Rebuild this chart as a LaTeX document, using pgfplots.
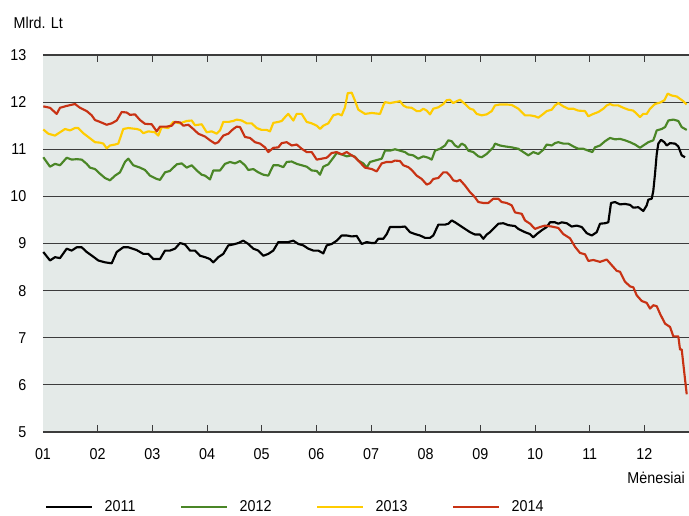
\documentclass[border=0pt]{standalone}
\usepackage{fontspec}
\setmainfont{Liberation Sans}[FakeStretch=0.91]
\usepackage{pgfplots}
\pgfplotsset{compat=1.18}
\definecolor{bgc}{RGB}{228,234,232}
\definecolor{c11}{RGB}{0,0,0}
\definecolor{c12}{RGB}{74,134,38}
\definecolor{c13}{RGB}{255,204,0}
\definecolor{c14}{RGB}{200,50,20}
\definecolor{gridc}{RGB}{60,60,60}
\newcommand\fs{\fontsize{11.8pt}{14pt}\selectfont}
\begin{document}
\begin{tikzpicture}
\path[use as bounding box] (-32.25pt,-63pt) rectangle (484.5pt,324pt);
\begin{axis}[
  at={(0pt,0pt)}, anchor=south west,
  scale only axis, width=484.5pt, height=282.75pt,
  xmin=0, xmax=11.816, ymin=5, ymax=13,
  x filter/.expression={(x-43)/54.67},
  axis background/.style={fill=bgc},
  axis line style={draw=none},
  ytick={5,...,13},
  ymajorgrids, grid style={gridc, line width=0.8pt},
  xtick={0,...,11},
  xticklabels={01,02,03,04,05,06,07,08,09,10,11,12},
  major tick length=0pt,
  extra x ticks={1,...,11}, extra x tick labels={},
  extra x tick style={major tick length=5.5pt, tick align=inside, tick style={gridc, line width=0.6pt}, xmajorgrids=false},
  /pgf/number format/assume math mode=true,
  tick label style={font=\fs},
  yticklabel style={anchor=east, xshift=-9pt},
  xticklabel style={anchor=north, yshift=-9pt},
  legend columns=4,
  legend style={at={(1.5pt,-56.25pt)}, anchor=west, draw=none, fill=none, font=\fs, inner sep=0pt,
     /tikz/every even column/.append style={column sep=31.5pt}},
  legend image code/.code={\draw[#1] (0pt,0pt) -- (34.5pt,0pt); \path (41pt,0pt);},
  legend cell align=left,
  every axis plot/.append style={line width=1.6pt, line join=round},
  clip=false,
]
% 2011
\addplot[c11] coordinates {
(43.3,8.82)(50,8.64)(55,8.71)(60,8.69)(66.7,8.89)(71.7,8.85)(76.7,8.92)(81.7,8.92)(86.7,8.82)(93.3,8.72)
(98.3,8.64)(105,8.60)(111.7,8.58)(116.7,8.82)(123.3,8.92)(128.3,8.92)(136.7,8.86)(143.3,8.78)(148.3,8.78)(153.3,8.67)
(160,8.67)(165,8.85)(170,8.85)(175,8.89)(180,9.01)(185,8.98)(190,8.85)(195,8.85)(200,8.74)(205,8.71)
(210,8.67)(213.3,8.60)(218.3,8.71)(223.3,8.78)(228.3,8.96)(233.3,8.98)(238.3,9.01)(243.3,9.06)(248.3,8.99)(253.3,8.89)
(258.3,8.85)(263.3,8.74)(268.3,8.78)(273.3,8.85)(278.3,9.03)(283.3,9.03)(288.3,9.03)(293.3,9.06)(298.3,8.99)(303.3,8.96)
(308.3,8.89)(313.3,8.85)(318.3,8.85)(323.3,8.79)(326.7,8.96)(331.7,8.99)(336.7,9.06)(341.7,9.17)(346.7,9.17)(351.7,9.15)
(356.7,9.16)(361.7,8.99)(366.7,9.03)(371.7,9.01)(375,9.01)(378.3,9.10)(383.3,9.10)(386.7,9.20)(390,9.35)(395,9.35)
(400,9.35)(405,9.36)(410,9.24)(415,9.20)(420,9.17)(425,9.12)(430,9.12)(433.3,9.17)(438.3,9.40)(445,9.40)
(448.3,9.42)(451.7,9.49)(455,9.45)(460,9.38)(465,9.31)(470,9.24)(475,9.19)(480,9.19)(483.3,9.10)(486.7,9.19)
(490,9.24)(493.3,9.31)(498.3,9.42)(503.3,9.43)(508.3,9.39)(515,9.37)(518.3,9.31)(525,9.24)(530,9.20)(533.3,9.13)
(536.7,9.20)(541.7,9.28)(546.7,9.35)(550,9.45)(555,9.45)(558.3,9.42)(561.7,9.45)(566.7,9.43)(571.7,9.36)(576.7,9.38)
(581.7,9.35)(586.7,9.22)(591.7,9.17)(596.7,9.24)(600,9.42)(605,9.43)(608.3,9.45)(611,9.86)(615,9.88)(620,9.83)
(625,9.84)(630,9.82)(633.3,9.76)(638.3,9.77)(643.3,9.69)(646.7,9.81)(648.3,9.93)(651.7,9.95)(653.3,10.12)(655,10.48)
(656.7,10.90)(658.3,11.12)(661,11.20)(664.3,11.15)(666.7,11.08)(670,11.13)(675,11.12)(678.3,11.06)(681.7,10.87)(685,10.83)
};
\addlegendentry{2011}
% 2012
\addplot[c12] coordinates {
(43.3,10.83)(50,10.63)(55,10.69)(60,10.66)(66.7,10.82)(71.7,10.78)(76.7,10.79)(81.7,10.78)(86.7,10.69)(90,10.61)
(95,10.58)(100,10.48)(105,10.39)(110,10.34)(115,10.44)(120,10.51)(125,10.73)(128.3,10.80)(133.3,10.66)(140,10.61)
(145,10.56)(150,10.44)(156.7,10.37)(160,10.35)(165,10.51)(170,10.54)(176.7,10.68)(181.7,10.70)(186.7,10.61)(191.7,10.66)
(196.7,10.55)(201.7,10.46)(205,10.44)(210,10.36)(213.3,10.55)(220,10.55)(225,10.69)(230,10.73)(235,10.70)(240,10.75)
(245,10.66)(248.3,10.56)(253.3,10.58)(258.3,10.51)(263.3,10.46)(268.3,10.44)(273.3,10.66)(278.3,10.66)(283.3,10.62)(286.7,10.73)
(291.7,10.74)(296.7,10.69)(301.7,10.66)(306.7,10.63)(311.7,10.55)(316.7,10.54)(320,10.46)(323.3,10.63)(328.3,10.68)(333.3,10.82)
(336.7,10.92)(341.7,10.89)(346.7,10.85)(351.7,10.87)(355,10.84)(358.3,10.76)(363.3,10.70)(366.7,10.61)(370,10.73)(375,10.76)
(381.7,10.80)(385,10.97)(390,10.97)(395,11.00)(400,10.97)(405,10.94)(408.3,10.89)(413.3,10.87)(418.3,10.80)(423.3,10.85)
(428.3,10.82)(431.7,10.78)(435,10.97)(440,11.01)(445,11.08)(448.3,11.19)(451.7,11.17)(455,11.08)(458.3,11.04)(461.7,11.12)
(465,11.08)(468.3,10.97)(473.3,10.94)(478.3,10.85)(481.7,10.83)(486.7,10.90)(490,10.97)(493.3,11.04)(495,11.12)(500,11.08)
(505,11.06)(511.7,11.04)(518.3,11.01)(523.3,10.94)(528.3,10.87)(533.3,10.94)(538.3,10.90)(543.3,10.99)(546.7,11.10)(551.7,11.08)
(555,11.13)(558.3,11.15)(563.3,11.12)(568.3,11.12)(573.3,11.06)(578.3,11.01)(583.3,11.01)(588.3,10.97)(592.3,10.94)(595,11.04)
(600,11.08)(605,11.17)(610,11.24)(615,11.21)(620,11.22)(625,11.19)(630,11.15)(635,11.10)(640,11.03)(643.3,11.08)
(648.3,11.15)(653.3,11.19)(656.7,11.40)(661.7,11.43)(665,11.47)(668.3,11.61)(673.3,11.63)(678.3,11.60)(681.7,11.47)(686.7,11.41)
};
\addlegendentry{2012}
% 2013
\addplot[c13] coordinates {
(43.3,11.42)(48.3,11.33)(55,11.29)(60,11.36)(65,11.43)(70,11.40)(75,11.45)(78.3,11.45)(83.3,11.34)(88.3,11.26)
(95,11.15)(100,11.14)(103.3,11.12)(106.7,11.02)(110,11.08)(115,11.10)(118.3,11.12)(123.3,11.43)(128.3,11.45)(136.7,11.43)
(140,11.41)(143.3,11.34)(148.3,11.38)(155,11.36)(158.3,11.29)(161.7,11.47)(168.3,11.45)(173.3,11.58)(180,11.55)(186.7,11.60)
(191.7,11.61)(195,11.51)(201.7,11.53)(206.7,11.36)(211.7,11.38)(216.7,11.33)(220,11.40)(223.3,11.58)(228.3,11.58)(233.3,11.60)
(236.7,11.63)(241.7,11.61)(246.7,11.55)(251.7,11.55)(256.7,11.45)(261.7,11.41)(266.7,11.41)(270,11.38)(273.3,11.56)(278.3,11.58)
(281.7,11.60)(285,11.68)(288.3,11.75)(293.3,11.61)(296.7,11.75)(301.7,11.75)(306.7,11.58)(311.7,11.55)(316.7,11.50)(320,11.43)
(323.3,11.50)(328.3,11.55)(333.3,11.72)(338.3,11.75)(341.7,11.72)(345,11.89)(347.7,12.19)(351.7,12.20)(355,12.03)(358.3,11.84)
(365,11.75)(371.7,11.77)(380,11.75)(383.3,11.93)(385,12.00)(390,11.98)(395,12.00)(400,12.02)(403.3,11.93)(406.7,11.89)
(411.7,11.88)(416.7,11.81)(420,11.81)(423.3,11.86)(426.7,11.82)(430,11.74)(433.3,11.86)(438.3,11.89)(443.3,11.96)(446.7,12.04)
(450,12.05)(453.3,11.98)(456.7,12.02)(460,12.05)(465,11.96)(470,11.86)(473.3,11.84)(476.7,11.75)(481.7,11.72)(486.7,11.74)
(491.7,11.81)(495,11.93)(500,11.95)(506.7,11.95)(511.7,11.94)(518.3,11.86)(525,11.72)(530,11.72)(535,11.70)(538.3,11.67)
(543.3,11.75)(546.7,11.81)(551.7,11.84)(555,11.93)(558.3,11.98)(563.3,11.91)(568.3,11.86)(573.3,11.86)(578.3,11.82)(585,11.81)
(588.3,11.70)(593.3,11.75)(598.3,11.79)(603.3,11.86)(606.7,11.93)(610,11.96)(613.3,11.93)(618.3,11.93)(623.3,11.88)(628.3,11.84)
(633.3,11.82)(636.7,11.75)(640,11.68)(643.3,11.75)(646.7,11.75)(650,11.86)(655,11.96)(660,11.99)(664.3,12.04)(667.7,12.18)
(671.7,12.14)(676.7,12.12)(680,12.07)(683.3,12.02)(686.7,11.95)
};
\addlegendentry{2013}
% 2014
\addplot[c14] coordinates {
(43.3,11.91)(50,11.88)(56.7,11.75)(60,11.88)(66.7,11.92)(75,11.96)(80,11.88)(86.7,11.81)(91.7,11.72)(95,11.62)
(100,11.58)(106.7,11.52)(111.7,11.55)(116.7,11.61)(121.7,11.79)(126.7,11.78)(130,11.73)(135,11.74)(140,11.62)(145,11.54)
(151.7,11.53)(156.7,11.38)(160,11.48)(166.7,11.48)(171.7,11.50)(175,11.58)(180,11.57)(183.3,11.50)(188.3,11.52)(193.3,11.43)
(198.3,11.33)(205,11.27)(210,11.19)(215,11.12)(218.3,11.15)(223.3,11.29)(228.3,11.33)(233.3,11.43)(236.7,11.48)(240,11.47)
(245,11.26)(250,11.24)(255,11.15)(260,11.12)(265,11.04)(268.3,10.94)(273.3,11.03)(278.3,11.04)(281.7,11.13)(286.7,11.15)
(291.7,11.08)(296.7,11.10)(301.7,11.01)(306.7,10.94)(311.7,10.94)(316.7,10.78)(321.7,10.80)(326.7,10.82)(331.7,10.92)(336.7,10.94)
(341.7,10.89)(346.7,10.94)(351.7,10.87)(355,10.83)(360,10.72)(365,10.61)(371.7,10.58)(376.7,10.53)(381.7,10.70)(386.7,10.73)
(391.7,10.73)(395,10.76)(400,10.75)(403.3,10.66)(408.3,10.62)(411.7,10.56)(416.7,10.44)(421.7,10.37)(426.7,10.25)(430,10.28)
(433.3,10.37)(438.3,10.39)(443.3,10.51)(446.7,10.51)(450,10.44)(453.3,10.34)(456.7,10.32)(460,10.35)(465,10.23)(470,10.09)
(475,9.98)(478.3,9.88)(483.3,9.86)(488.3,9.86)(493.3,9.95)(498.3,9.95)(501.7,9.88)(506.7,9.86)(511.7,9.81)(515,9.66)
(521.7,9.63)(525,9.49)(530,9.42)(535,9.31)(540,9.35)(545,9.38)(551.7,9.36)(558.3,9.33)(563.3,9.20)(570,9.11)
(575,8.93)(580,8.80)(585,8.77)(588.3,8.63)(593.3,8.65)(600,8.61)(606.7,8.66)(611.7,8.54)(616.7,8.42)(620,8.40)
(625,8.19)(630,8.09)(633.3,8.07)(636.7,7.90)(641.7,7.78)(646.7,7.74)(650,7.62)(653.3,7.69)(656.7,7.67)(660,7.51)
(665,7.30)(670,7.23)(673.3,7.03)(678.3,7.03)(680,6.75)(681.7,6.75)(684,6.31)(686.7,5.80)
};
\addlegendentry{2014}
\end{axis}
\node[font=\fs, anchor=west] at (-25.5pt,306.75pt) {Mlrd. Lt};
\node[font=\fs, anchor=east, inner sep=0pt] at (481.5pt,-34.5pt) {Mėnesiai};
\end{tikzpicture}
\end{document}
